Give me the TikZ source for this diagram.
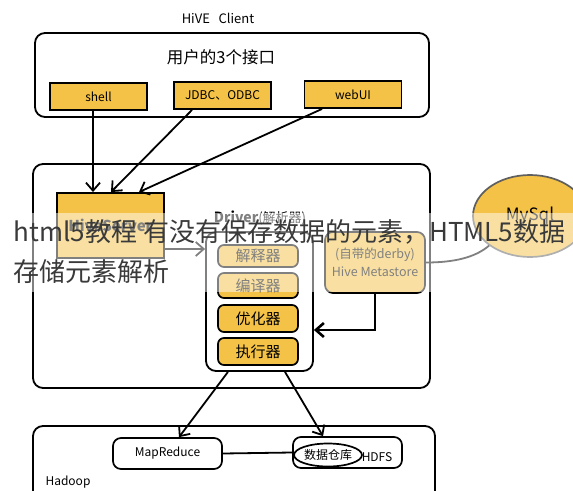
\documentclass[tikz,border=0pt]{standalone}
\usepackage{fontspec}
\newfontfamily\cjk{Noto Sans CJK SC}
\usetikzlibrary{arrows.meta,shapes.geometric}
\definecolor{hiveyellow}{RGB}{244,194,70}
\definecolor{marktext}{RGB}{58,58,58}
\definecolor{rimgray}{RGB}{95,95,95}
\tikzset{
  >={Straight Barb[length=8pt,width=14pt]},
  panel/.style={draw, line width=1.8pt, rounded corners=10pt, inner sep=0pt},
  api/.style={draw, fill=hiveyellow, line width=1.9pt, minimum width=97pt, minimum height=27pt, inner sep=0pt, font=\cjk\fontsize{12}{14}\selectfont},
  stage/.style={draw, fill=hiveyellow, line width=1.7pt, rounded corners=6pt, minimum width=80pt, inner sep=0pt, font=\cjk\fontsize{15}{17}\selectfont},
  store/.style={draw, line width=1.7pt, rounded corners=8pt, minimum width=109pt, minimum height=31pt, inner sep=0pt, font=\cjk\fontsize{12}{14}\selectfont},
  txt/.style={inner sep=0pt, font=\cjk\fontsize{12}{14}\selectfont},
  watermark/.style={inner sep=0pt, text=marktext, font=\cjk\fontsize{26}{30}\selectfont},
}
\begin{document}
\begin{tikzpicture}[x=1pt, y=-1pt, line width=1.8pt]
    \useasboundingbox (0,0) rectangle (573,490);
    \clip (0,0) rectangle (573,490);
    % client
    \node[txt, font=\cjk\fontsize{13}{15}\selectfont] (title) at (218,18) {HiVE\ \ \ Client};
    \node[panel, minimum width=394pt, minimum height=84pt] (client) at (232,75) {};
    \node[txt, font=\cjk\fontsize{16.5}{18}\selectfont] (users) at (221,57) {用户的3个接口};
    \node[api] (shell) at (98.5,96.5) {shell};
    \node[api] (jdbc) at (222.5,95.5) {JDBC、ODBC};
    \node[api] (webui) at (353,94.5) {webUI};
    % hive
    \node[panel, minimum width=397pt, minimum height=224pt] (hive) at (231.5,276) {};
    \node[draw, fill=hiveyellow, line width=1.9pt, minimum width=107pt, minimum height=65pt, font=\cjk\bfseries\fontsize{15}{17}\selectfont] (srv) at (110.5,225.5) {HiveServer};
    \node[txt, font=\cjk\fontsize{13}{15}\selectfont] (drvname) at (260,218) {{\bfseries\fontsize{14}{16}\selectfont Driver}(解析器)};
    \node[panel, minimum width=107pt, minimum height=139pt] (drv) at (259.5,301.5) {};
    \node[stage, minimum height=22pt] (interp) at (258,256) {解释器};
    \node[stage, minimum height=25pt] (comp) at (258,285.5) {编译器};
    \node[stage, minimum height=27pt] (opt) at (258,318.5) {优化器};
    \node[stage, minimum height=27pt] (exec) at (258,351.5) {执行器};
    \node[draw, fill=hiveyellow, line width=1.7pt, rounded corners=8pt, minimum width=100pt, minimum height=61pt, inner sep=0pt, align=center, font=\cjk\fontsize{12.5}{18}\selectfont] (meta) at (375,262.5) {(自带的derby)\\Hive Metastore};
    \node[ellipse, draw=rimgray, fill=hiveyellow, line width=1.7pt, minimum width=114pt, minimum height=82pt, inner sep=0pt, font=\cjk\fontsize{17}{19}\selectfont] (mysql) at (530,216) {MySql};
    % hadoop
    \node[panel, minimum width=402pt, minimum height=94pt] (hadoop) at (234,473) {};
    \node[txt] (hadoopname) at (68,482) {Hadoop};
    \node[store] (mr) at (167.5,453.5) {MapReduce};
    \node[store] (hdfs) at (347.5,452.5) {};
    \node[ellipse, draw, line width=1.7pt, minimum width=53pt, minimum height=23pt, inner sep=0pt, font=\cjk\fontsize{12}{14}\selectfont] (dw) at (328,455) {数据仓库};
    \node[txt] (hdfsname) at (377,457) {HDFS};
    % connectors
    \draw[->] ([xshift=-5.5pt]shell.south) -- ([xshift=-17.5pt]srv.north);
    \draw[->] ([xshift=-30.5pt]jdbc.south) -- ([xshift=0.5pt]srv.north);
    \draw[->] ([xshift=-31pt]webui.south) -- ([xshift=28.5pt]srv.north);
    \coordinate (srvout) at ([yshift=-23.5pt]srv.east);
    \draw[->] (srvout) -- (srvout -| drv.west);
    \draw[->, line width=2.6pt] (meta.south) |- (drv.east |- 0,330);
    \draw (meta.east) .. controls +(28,0) and +(-14,12) .. (mysql.south west);
    \draw[->] ([xshift=-31.5pt]drv.south) -- ([xshift=11.5pt]mr.north);
    \draw[->] ([xshift=25.5pt]drv.south) -- ([xshift=-24.5pt]hdfs.north);
    \draw (mr.east) -- (hdfs.west);
    % overlay band
    \fill[white, opacity=0.5] (0,213) rectangle (573,292);
    \node[watermark, anchor=base west] (mark1) at (13,241) {html5教程 有没有保存数据的元素，HTML5数据};
    \node[watermark, anchor=base west] (mark2) at (13,281) {存储元素解析};
\end{tikzpicture}
\end{document}
